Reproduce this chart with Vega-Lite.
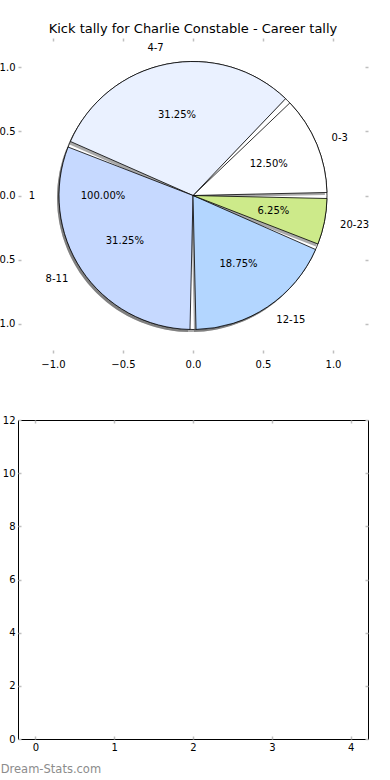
{
  "$schema": "https://vega.github.io/schema/vega-lite/v6.json",
  "padding": {"left": -10, "top": 23, "right": 0, "bottom": 2},
  "background": "white",
  "config": {
    "font": "DejaVu Sans",
    "axis": {
      "grid": false,
      "domain": false,
      "labelFont": "DejaVu Sans",
      "labelFontSize": 10,
      "labelColor": "black",
      "tickColor": "#bfbfbf",
      "tickWidth": 1.5,
      "tickSize": -3,
      "labelPadding": 6,
      "title": null
    }
  },
  "datasets": {
    "kicks": [
      {"range": "0-3", "low": 0, "share": 0.125},
      {"range": "4-7", "low": 4, "share": 0.3125},
      {"range": "8-11", "low": 8, "share": 0.3125},
      {"range": "12-15", "low": 12, "share": 0.1875},
      {"range": "20-23", "low": 20, "share": 0.0625}
    ],
    "full": [
      {"label": "1", "share": 1}
    ]
  },
  "title": {
    "text": "Dream-Stats.com",
    "orient": "bottom",
    "anchor": "start",
    "fontSize": 11.5,
    "fontWeight": "normal",
    "color": "#8c8c8c",
    "offset": 11,
    "dx": 10
  },
  "spacing": 45,
  "vconcat": [
    {
      "width": 350,
      "height": 315,
      "title": {
        "text": "Kick tally for Charlie Constable - Career tally",
        "fontSize": 13,
        "fontWeight": "normal",
        "color": "black",
        "offset": 1
      },
      "view": {"stroke": null},
      "layer": [
        {
          "data": {"name": "full"},
          "mark": {"type": "arc", "radius": 134, "fill": "#555555", "opacity": 0.5, "xOffset": -2, "yOffset": 2.5},
          "encoding": {
            "theta": {"field": "share", "type": "quantitative", "stack": true, "scale": {"range": [1.5708, -4.7124]}},
            "x": {"datum": 0, "type": "quantitative", "scale": {"domain": [-1.25, 1.25], "nice": false, "zero": false}, "axis": {"orient": "bottom", "values": [-1, -0.5, 0, 0.5, 1], "format": ".1f", "labelPadding": 9}},
            "y": {"datum": 0, "type": "quantitative", "scale": {"domain": [-1.23, 1.23], "nice": false, "zero": false}, "axis": {"orient": "left", "values": [-1, -0.5, 0, 0.5, 1], "format": ".1f"}}
          }
        },
        {
          "data": {"name": "full"},
          "mark": {"type": "arc", "radius": 134, "fill": "white", "stroke": "black", "strokeWidth": 0.8},
          "encoding": {
            "theta": {"field": "share", "type": "quantitative", "stack": true, "scale": {"range": [1.5708, -4.7124]}},
            "x": {"datum": 0, "type": "quantitative", "axis": {"orient": "top", "values": [-1, -0.5, 0, 0.5, 1], "labels": false}},
            "y": {"datum": 0, "type": "quantitative", "axis": {"orient": "right", "values": [-1, -0.5, 0, 0.5, 1], "labels": false}}
          }
        },
        {
          "data": {"name": "kicks"},
          "mark": {"type": "arc", "radius": 134, "padAngle": 0.045, "fill": "#555555", "opacity": 0.5, "xOffset": -2, "yOffset": 2.5},
          "encoding": {
            "theta": {"field": "share", "type": "quantitative", "stack": true, "scale": {"range": [1.5708, -4.7124]}},
            "order": {"field": "low", "type": "quantitative"}
          }
        },
        {
          "data": {"name": "kicks"},
          "mark": {"type": "arc", "radius": 134, "padAngle": 0.045, "stroke": "black", "strokeWidth": 0.8},
          "encoding": {
            "theta": {"field": "share", "type": "quantitative", "stack": true, "scale": {"range": [1.5708, -4.7124]}},
            "order": {"field": "low", "type": "quantitative"},
            "color": {"field": "range", "type": "nominal", "legend": null, "scale": {"domain": ["0-3", "4-7", "8-11", "12-15", "20-23"], "range": ["#ffffff", "#eaf1ff", "#c6d9ff", "#b3d6ff", "#cdea8a"]}}
          }
        },
        {
          "data": {"name": "kicks"},
          "mark": {"type": "text", "radius": 82, "fontSize": 10, "color": "black", "align": "center", "baseline": "middle"},
          "encoding": {
            "theta": {"field": "share", "type": "quantitative", "stack": true, "scale": {"range": [1.5708, -4.7124]}},
            "order": {"field": "low", "type": "quantitative"},
            "text": {"field": "share", "type": "quantitative", "format": ".2%"}
          }
        },
        {
          "data": {"name": "kicks"},
          "mark": {"type": "text", "radius": 150, "fontSize": 10, "color": "black", "baseline": "middle", "align": {"expr": "indexof(['4-7','8-11'], datum.range) >= 0 ? 'right' : 'left'"}},
          "encoding": {
            "theta": {"field": "share", "type": "quantitative", "stack": true, "scale": {"range": [1.5708, -4.7124]}},
            "order": {"field": "low", "type": "quantitative"},
            "text": {"field": "range", "type": "nominal"}
          }
        },
        {
          "data": {"name": "full"},
          "mark": {"type": "text", "radius": 158, "fontSize": 10, "color": "black", "align": "right", "baseline": "middle"},
          "encoding": {
            "theta": {"field": "share", "type": "quantitative", "stack": true, "scale": {"range": [1.5708, -4.7124]}},
            "text": {"field": "label", "type": "nominal"}
          }
        },
        {
          "data": {"name": "full"},
          "mark": {"type": "text", "radius": 90, "fontSize": 10, "color": "black", "align": "center", "baseline": "middle"},
          "encoding": {
            "theta": {"field": "share", "type": "quantitative", "stack": true, "scale": {"range": [1.5708, -4.7124]}},
            "text": {"field": "share", "type": "quantitative", "format": ".2%"}
          }
        }
      ],
      "resolve": {"scale": {"theta": "independent"}, "axis": {"x": "independent", "y": "independent"}}
    },
    {
      "width": 350,
      "height": 319,
      "view": {"stroke": "black", "strokeWidth": 1},
      "data": {"values": []},
      "layer": [
        {
          "mark": "point",
          "encoding": {
            "x": {"field": "x", "type": "quantitative", "scale": {"domain": [-0.22, 4.22], "nice": false, "zero": false}, "axis": {"orient": "bottom", "values": [0, 1, 2, 3, 4]}},
            "y": {"field": "y", "type": "quantitative", "scale": {"domain": [0, 12], "nice": false, "zero": false}, "axis": {"orient": "left", "values": [0, 2, 4, 6, 8, 10, 12]}}
          }
        },
        {
          "mark": "point",
          "encoding": {
            "x": {"field": "x", "type": "quantitative", "axis": {"orient": "top", "values": [0, 1, 2, 3, 4], "labels": false}},
            "y": {"field": "y", "type": "quantitative", "axis": {"orient": "right", "values": [0, 2, 4, 6, 8, 10, 12], "labels": false}}
          }
        }
      ],
      "resolve": {"axis": {"x": "independent", "y": "independent"}}
    }
  ]
}
